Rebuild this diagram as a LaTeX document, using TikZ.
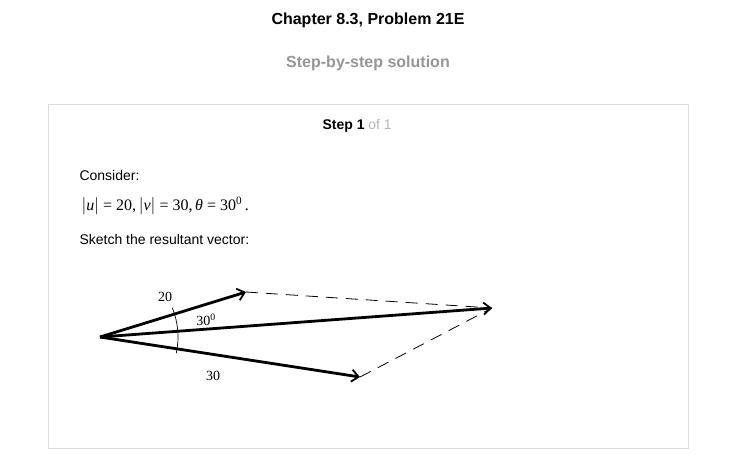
\documentclass[tikz,border=0pt]{standalone}
\usepackage{fontspec}
\setmainfont{Liberation Sans}
\newfontfamily\timesfont{Liberation Serif}
\usetikzlibrary{arrows.meta}
\definecolor{softgray}{RGB}{150,150,150}
\definecolor{linegray}{RGB}{220,220,220}
\begin{document}
\begin{tikzpicture}[x=1pt,y=-1pt]
        \useasboundingbox[fill=white] (0,0) rectangle (738,475);

        \begin{scope}[every node/.style={font=\fontsize{16}{18}\selectfont\bfseries}]
          \node (title) at (368,20) {Chapter 8.3, Problem 21E};
          \node[text=softgray] (sub) at (368,63) {Step-by-step solution};
        \end{scope}

        \draw[linegray] (48,104) rectangle (688,448);

        \begin{scope}[every node/.style={anchor=west, font=\fontsize{14}{16}\selectfont}]
          \node (step) at (319,126) {\textbf{Step 1} \textcolor{softgray!70}{of 1}};
          \node (cons) at (76,175) {Consider:};
          \node (given) at (78,206) {\timesfont\fontsize{16}{18}\selectfont
            $\big|$\textit{u}$\big|$ = 20,\,$\big|$\textit{v}$\big|$ = 30,\,\textit{θ} = 30\textsuperscript{0}\,.};
          \node (sketch) at (76,239) {Sketch the resultant vector:};
        \end{scope}

        \begin{scope}[every node/.style={inner sep=0pt}]
          \coordinate (O) at (100,337);
          \coordinate (U) at (246,292);
          \coordinate (V) at (360,377);
          \coordinate (R) at (492,308);
        \end{scope}

        \begin{scope}[every path/.style={line width=2.8pt, -{Straight Barb[length=7pt,width=12pt,line width=1.8pt]}}]
          \draw (O) -- (U);
          \draw (O) -- (V);
          \draw (O) -- (R);
        \end{scope}

        \begin{scope}[every path/.style={line width=0.8pt, dash pattern=on 12pt off 8pt}]
          \draw (U) -- (R);
          \draw (V) -- (R);
        \end{scope}

        \draw[line width=0.7pt] (O) ++(-22:78) arc[start angle=-22, end angle=12, radius=78];

        \begin{scope}[every node/.style={font=\timesfont\fontsize{14}{16}\selectfont}]
          \node (lu) at (165,297) {20};
          \node (lt) at (206,320) {30\textsuperscript{0}};
          \node (lv) at (213,376) {30};
        \end{scope}

      \end{tikzpicture}
\end{document}
